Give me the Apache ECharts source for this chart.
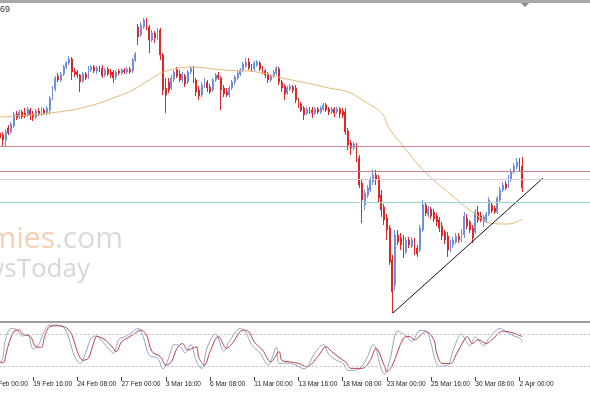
<!DOCTYPE html>
<html><head><meta charset="utf-8">
<script src="https://cdn.jsdelivr.net/npm/echarts@6/dist/echarts.min.js"></script>
<style>html,body{margin:0;padding:0;background:#fff;}#c{width:590px;height:393px;}</style>
</head><body><div id="c"></div>
<script>
// ---- data ----
const tickLabels = ['17 Feb 00:00','19 Feb 16:00','24 Feb 08:00','27 Feb 00:00','3 Mar 16:00','6 Mar 08:00','11 Mar 00:00','13 Mar 16:00','18 Mar 08:00','23 Mar 00:00','25 Mar 16:00','30 Mar 08:00','2 Apr 00:00'];
const barsPerTick = 16;
const totalSlots = 218;
const firstBar = 4;
// [open, close, low, high]
const ohlc = [
[187,182,178,190],[185,180,174,188],[180,188,173,191],[192,187,185,195],[188,196,186,198],
[194,206,192,208],[206,202,200,209],[203,208,201,210],[208,203,201,210],[207,204,202,212],
[205,211,203,213],[210,205,200,212],[206,203,199,209],[203,209,201,211],[209,206,204,212],
[206,210,204,213],[210,207,205,212],[207,212,205,214],[210,222,206,224],[222,232,220,234],
[231,242,229,244],[244,240,238,247],[240,246,238,248],[246,253,244,255],[253,257,251,259],
[257,261,255,264],[261,248,240,263],[249,246,243,252],[248,245,242,250],[245,238,228,246],
[239,246,237,248],[246,242,240,248],[243,251,241,254],[250,253,248,255],[253,249,247,255],
[249,252,246,254],[252,250,248,254],[252,244,242,255],[245,250,243,252],[251,246,244,253],
[248,245,242,251],[248,242,237,250],[243,248,240,250],[249,247,245,251],[247,250,245,252],
[250,248,246,252],[248,251,246,253],[251,248,246,253],[249,260,247,262],[260,266,258,268],
[293,283,275,296],[285,295,283,298],[293,300,291,302],[299,293,290,302],[293,280,267,295],
[280,287,278,290],[287,282,277,289],[283,290,280,292],[290,265,260,292],[265,230,225,267],
[232,225,207,242],[238,230,227,242],[232,242,230,245],[241,248,238,250],[250,244,242,253],
[246,240,238,250],[240,246,237,248],[244,236,233,246],[238,248,236,250],[248,252,246,254],
[252,240,237,254],[240,228,224,242],[230,224,220,234],[225,235,223,238],[234,240,232,242],
[238,232,228,240],[233,228,226,236],[230,240,228,242],[240,245,238,247],[245,242,240,248],
[242,230,210,244],[232,226,223,235],[228,225,223,232],[225,232,223,234],[232,238,230,240],
[238,243,235,245],[242,247,240,249],[246,250,244,252],[250,256,248,258],[254,258,252,262],
[258,252,250,262],[254,250,248,256],[251,257,249,259],[255,258,253,260],[257,251,249,259],
[252,248,246,254],[249,245,242,251],[246,240,237,248],[240,244,238,246],[244,248,242,250],
[247,252,245,254],[251,238,235,253],[238,232,228,240],[234,226,220,236],[227,232,225,234],
[231,234,229,236],[233,230,227,235],[232,220,217,235],[220,215,212,222],[216,210,208,218],
[212,205,200,214],[207,211,205,213],[211,208,206,213],[210,207,202,213],[207,211,205,213],
[211,208,206,213],[208,212,206,214],[211,215,209,217],[215,210,208,217],[211,208,205,213],
[208,211,206,213],[211,207,203,213],[208,211,206,213],[211,206,202,213],[209,205,202,212],
[208,188,185,212],[189,175,170,192],[177,172,165,180],[172,176,170,178],[175,160,158,177],
[162,135,132,165],[137,120,97,140],[115,127,110,130],[125,132,122,135],[130,140,128,143],
[138,145,135,150],[145,140,135,150],[142,122,117,145],[125,110,103,130],[113,100,95,116],
[102,90,80,106],[92,58,55,95],[60,28,7,65],[35,85,30,90],[85,78,75,90],
[82,75,70,87],[77,65,62,85],[68,80,66,83],[80,75,72,83],[74,80,72,83],
[80,70,65,82],[72,66,63,75],[70,92,68,95],[90,115,88,120],[115,107,104,118],
[105,111,103,114],[111,104,101,113],[108,101,98,111],[104,98,94,107],[100,92,88,103],
[94,84,80,98],[88,80,76,90],[84,70,63,88],[71,78,68,80],[75,80,72,83],
[78,84,76,87],[84,80,77,87],[80,88,78,91],[85,104,82,108],[102,94,91,106],
[98,90,87,100],[92,82,77,95],[88,108,86,111],[108,100,97,114],[104,100,98,108],
[98,103,93,105],[100,106,97,108],[106,120,104,123],[115,109,107,117],[112,108,106,114],
[108,122,106,124],[120,130,118,133],[130,135,128,138],[136,132,130,139],[134,142,132,145],
[140,148,138,151],[148,154,146,157],[153,158,151,162],[158,152,148,162],[154,132,128,163]
];
const maPoints = [[4,203],[22,207],[35,213],[46,223],[52,230],[58,240],[63,248],[69,252],[73,253],[85,250],[97,248],[106,242],[115,237],[123,232],[130,228],[135,220],[142,207],[145,191],[151,170],[157,150],[166,128],[173,112],[178,102],[181,97],[188,96],[193,101]];
const levelValues = [174, 149, 141, 118];
const trendline = [[146.2,7],[200.5,142]];
const stochMain = [[4,25],[5,35],[6,70],[8,90],[10,88],[12,76],[14,78],[16,52],[18,60],[20,85],[22,96],[24,96],[27,92],[29,70],[31,38],[33,25],[35,45],[37,72],[39,76],[41,66],[44,48],[45,44],[47,70],[49,74],[51,80],[54,90],[56,72],[58,40],[61,35],[63,15],[65,35],[67,60],[69,58],[71,45],[73,60],[75,30],[77,15],[79,55],[82,80],[85,48],[87,66],[91,90],[93,82],[95,60],[98,45],[101,22],[104,55],[105,25],[108,26],[111,22],[114,15],[118,45],[121,60],[123,42],[126,30],[128,26],[130,12],[134,15],[137,38],[139,60],[142,15],[143,5],[145,30],[148,85],[151,76],[153,66],[156,86],[158,86],[160,62],[161,40],[163,20],[166,22],[168,50],[171,80],[172,72],[174,58],[176,74],[179,58],[181,72],[185,90],[187,84],[190,76],[192,72],[193,65]];
const stochSignal = [[4,28],[5,26],[7,59],[9,84],[11,87],[12,80],[15,75],[17,56],[19,55],[20,72],[22,93],[25,95],[28,91],[30,78],[32,47],[34,31],[36,35],[38,65],[39,75],[42,69],[45,53],[46,47],[48,65],[50,72],[52,78],[55,87],[57,78],[59,47],[62,38],[64,22],[66,28],[68,53],[70,62],[72,50],[75,56],[76,35],[78,22],[80,47],[83,75],[86,53],[88,62],[92,87],[94,84],[96,65],[99,50],[102,28],[105,47],[106,31],[109,28],[112,25],[115,19],[119,38],[122,56],[124,47],[127,35],[129,28],[131,16],[135,16],[138,31],[140,53],[143,22],[144,10],[146,22],[150,72],[152,75],[154,69],[157,81],[158,84],[161,69],[162,44],[164,25],[167,25],[169,41],[172,69],[173,75],[175,62],[177,69],[180,62],[182,69],[186,85],[188,84],[191,79],[193,75]];
const stochLevels = [80, 20];
const headerText = '69';
const watermark1 = ['Economies', '.com'];
const watermark2 = 'NewsToday';

// ---- styles ----
const UP = '#6f8fe0', DOWN = '#de2828';
const levelColors = ['#c9868e', '#c9868e', '#dccbd3', '#9fd2c4'];

const categories = [];
for (let i = 0; i < totalSlots; i++) categories.push('b' + i);
const candleData = ohlc.map((d, k) => [firstBar + k, d[0], d[1], d[2], d[3]]);
const showTick = idx => idx % barsPerTick === 0 && idx / barsPerTick < tickLabels.length;

const chart = echarts.init(document.getElementById('c'), null, {renderer: 'canvas'});
const gridLeft = -12.4;
chart.setOption({
  animation: false,
  backgroundColor: '#ffffff',
  grid: [
    {left: gridLeft, right: 0, top: 4, height: 316, outerBoundsMode: 'none', containLabel: false},
    {left: gridLeft, right: 0, top: 323, height: 54, outerBoundsMode: 'none', containLabel: false}
  ],
  xAxis: [
    {type: 'category', gridIndex: 0, data: categories, boundaryGap: true, show: false},
    {type: 'value', gridIndex: 0, min: -0.5, max: totalSlots - 0.5, show: false},
    {type: 'category', gridIndex: 1, data: categories, boundaryGap: true,
      axisLine: {show: false},
      axisTick: {show: true, interval: showTick, length: 4, alignWithLabel: true, lineStyle: {color: '#444', width: 1}},
      axisLabel: {show: true, interval: showTick, align: 'left', margin: 4, fontSize: 6.6,
        fontFamily: 'Liberation Sans', color: '#222', hideOverlap: false,
        formatter: (v, idx) => (idx % barsPerTick === 0 ? (tickLabels[idx / barsPerTick] || '') : '')},
      splitLine: {show: false}},
    {type: 'value', gridIndex: 1, min: -0.5, max: totalSlots - 0.5, show: false}
  ],
  yAxis: [
    {type: 'value', gridIndex: 0, min: 0, max: 316, show: false, splitLine: {show: false}},
    {type: 'value', gridIndex: 1, min: 0, max: 100, show: false, splitLine: {show: false}}
  ],
  graphic: [
    {type: 'rect', shape: {x: 0, y: 0, width: 590, height: 3}, style: {fill: '#a9a9a9'}, z: 100},
    {type: 'polygon', shape: {points: [[521, 3], [529, 3], [525, 7]]}, style: {fill: '#8a8a8a'}, z: 100},
    {type: 'rect', shape: {x: 0, y: 321, width: 590, height: 2}, style: {fill: '#9c9c9c'}, z: 100},
    {type: 'text', left: 0, top: 5, style: {text: headerText, fontSize: 9, fontFamily: 'Liberation Sans', fill: '#333'}, z: 100},
    {type: 'text', x: 123, y: 224, z: -5, style: {
      text: '{a|' + watermark1[0] + '}{b|' + watermark1[1] + '}', align: 'right', verticalAlign: 'top',
      rich: {a: {fontSize: 30, fontFamily: 'Open Sans', fill: '#f6cfb2', color: '#f6cfb2'},
             b: {fontSize: 30, fontFamily: 'Open Sans', fill: '#dadada', color: '#dadada'}}}},
    {type: 'text', x: 90, y: 257, z: -5, style: {
      text: watermark2, align: 'right', verticalAlign: 'top', fontSize: 26, fontFamily: 'Open Sans', fill: '#d6d6d6'}}
  ],
  series: [
    {type: 'candlestick', xAxisIndex: 0, yAxisIndex: 0, data: candleData,
      encode: {x: 0, y: [1, 2, 3, 4]}, barWidth: 1.4,
      itemStyle: {color: UP, color0: DOWN, borderColor: UP, borderColor0: DOWN, borderWidth: 1},
      markLine: {silent: true, symbol: 'none', label: {show: false}, animation: false,
        data: levelValues.map((v, k) => ({yAxis: v, lineStyle: {color: levelColors[k], width: 1, type: 'solid'}}))}},
    {type: 'line', xAxisIndex: 1, yAxisIndex: 0, data: maPoints, smooth: 0.4, showSymbol: false,
      lineStyle: {color: '#e7b676', width: 1}},
    {type: 'line', xAxisIndex: 1, yAxisIndex: 0, data: trendline, showSymbol: false,
      lineStyle: {color: '#111', width: 1}},
    {type: 'line', xAxisIndex: 3, yAxisIndex: 1, data: stochMain, smooth: 0.35, showSymbol: false,
      lineStyle: {color: '#93a3c9', width: 1},
      markLine: {silent: true, symbol: 'none', label: {show: false},
        data: stochLevels.map(v => ({yAxis: v})), lineStyle: {color: '#bdbdbd', width: 1, type: [2, 2]}}},
    {type: 'line', xAxisIndex: 3, yAxisIndex: 1, data: stochSignal, smooth: 0.35, showSymbol: false,
      lineStyle: {color: '#b8404c', width: 1}}
  ]
});
</script></body></html>
